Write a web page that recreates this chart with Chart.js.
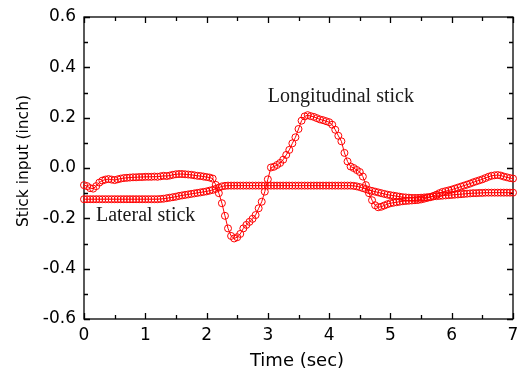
<!DOCTYPE html>
<html>
<head>
<meta charset="utf-8">
<script src="https://cdn.jsdelivr.net/npm/chart.js@4/dist/chart.umd.min.js"></script>
<style>
  body { margin: 0; background: #fff; }
  #wrap { width: 518px; height: 371px; }
</style>
</head>
<body>
<div id="wrap"><canvas id="stickChart" width="518" height="371"></canvas></div>
<script>
// sample times (sec), 0.05 s apart
const time = [
  0.00, 0.05, 0.10, 0.15, 0.20, 0.25, 0.30, 0.35, 0.40, 0.45,
  0.50, 0.55, 0.60, 0.65, 0.70, 0.75, 0.80, 0.85, 0.90, 0.95,
  1.00, 1.05, 1.10, 1.15, 1.20, 1.25, 1.30, 1.35, 1.40, 1.45,
  1.50, 1.55, 1.60, 1.65, 1.70, 1.75, 1.80, 1.85, 1.90, 1.95,
  2.00, 2.05, 2.10, 2.15, 2.20, 2.25, 2.30, 2.35, 2.40, 2.45,
  2.50, 2.55, 2.60, 2.65, 2.70, 2.75, 2.80, 2.85, 2.90, 2.95,
  3.00, 3.05, 3.10, 3.15, 3.20, 3.25, 3.30, 3.35, 3.40, 3.45,
  3.50, 3.55, 3.60, 3.65, 3.70, 3.75, 3.80, 3.85, 3.90, 3.95,
  4.00, 4.05, 4.10, 4.15, 4.20, 4.25, 4.30, 4.35, 4.40, 4.45,
  4.50, 4.55, 4.60, 4.65, 4.70, 4.75, 4.80, 4.85, 4.90, 4.95,
  5.00, 5.05, 5.10, 5.15, 5.20, 5.25, 5.30, 5.35, 5.40, 5.45,
  5.50, 5.55, 5.60, 5.65, 5.70, 5.75, 5.80, 5.85, 5.90, 5.95,
  6.00, 6.05, 6.10, 6.15, 6.20, 6.25, 6.30, 6.35, 6.40, 6.45,
  6.50, 6.55, 6.60, 6.65, 6.70, 6.75, 6.80, 6.85, 6.90, 6.95,
  7.00
];

// stick inputs (inch)
const longitudinal = [
  -0.068, -0.072, -0.080, -0.082, -0.072, -0.058, -0.050, -0.046, -0.044, -0.046,
  -0.048, -0.045, -0.042, -0.040, -0.039, -0.038, -0.037, -0.037, -0.036, -0.036,
  -0.035, -0.035, -0.035, -0.034, -0.035, -0.033, -0.031, -0.032, -0.030, -0.027,
  -0.025, -0.024, -0.024, -0.025, -0.026, -0.027, -0.029, -0.031, -0.032, -0.034,
  -0.036, -0.038, -0.042, -0.067, -0.100, -0.140, -0.190, -0.240, -0.270, -0.280,
  -0.275, -0.262, -0.240, -0.226, -0.214, -0.202, -0.187, -0.160, -0.134, -0.094,
  -0.045, 0.002, 0.005, 0.012, 0.020, 0.033, 0.052, 0.072, 0.098, 0.122,
  0.155, 0.188, 0.205, 0.210, 0.206, 0.203, 0.198, 0.193, 0.190, 0.186,
  0.182, 0.172, 0.152, 0.128, 0.106, 0.060, 0.026, 0.006, 0.000, -0.008,
  -0.016, -0.034, -0.068, -0.100, -0.128, -0.148, -0.156, -0.154, -0.149, -0.144,
  -0.140, -0.138, -0.136, -0.134, -0.132, -0.131, -0.130, -0.129, -0.128, -0.127,
  -0.125, -0.122, -0.119, -0.116, -0.111, -0.106, -0.100, -0.095, -0.092, -0.089,
  -0.086, -0.082, -0.078, -0.074, -0.070, -0.066, -0.062, -0.057, -0.053, -0.049,
  -0.045, -0.040, -0.035, -0.031, -0.029, -0.028, -0.030, -0.034, -0.037, -0.040,
  -0.042
];

const lateral = [
  -0.124, -0.124, -0.124, -0.124, -0.124, -0.124, -0.124, -0.124, -0.124, -0.124,
  -0.124, -0.124, -0.124, -0.124, -0.124, -0.124, -0.124, -0.124, -0.124, -0.124,
  -0.124, -0.124, -0.124, -0.124, -0.124, -0.123, -0.122, -0.120, -0.118, -0.116,
  -0.114, -0.111, -0.109, -0.107, -0.105, -0.103, -0.101, -0.099, -0.097, -0.095,
  -0.093, -0.090, -0.087, -0.083, -0.078, -0.073, -0.071, -0.070, -0.070, -0.070,
  -0.070, -0.070, -0.070, -0.070, -0.070, -0.070, -0.070, -0.070, -0.070, -0.070,
  -0.070, -0.070, -0.070, -0.070, -0.070, -0.070, -0.070, -0.070, -0.070, -0.070,
  -0.070, -0.070, -0.070, -0.070, -0.070, -0.070, -0.070, -0.070, -0.070, -0.070,
  -0.070, -0.070, -0.070, -0.070, -0.070, -0.070, -0.070, -0.070, -0.071, -0.073,
  -0.076, -0.080, -0.084, -0.088, -0.091, -0.094, -0.097, -0.100, -0.103, -0.106,
  -0.108, -0.110, -0.112, -0.114, -0.116, -0.117, -0.118, -0.119, -0.119, -0.119,
  -0.118, -0.117, -0.116, -0.115, -0.113, -0.112, -0.111, -0.110, -0.109, -0.108,
  -0.107, -0.106, -0.105, -0.104, -0.103, -0.102, -0.101, -0.100, -0.100, -0.099,
  -0.099, -0.098, -0.098, -0.098, -0.098, -0.098, -0.098, -0.098, -0.098, -0.098,
  -0.098
];

const xTitle = 'Time (sec)';
const yTitle = 'Stick input (inch)';
const labels = [
  { text: 'Longitudinal stick', x: 3.0, y: 0.263 },
  { text: 'Lateral stick', x: 0.195, y: -0.21 }
];

const RED = '#ff0000';

// box frame with inward major/minor ticks, axis titles and curve labels
const framePlugin = {
  id: 'frame',
  beforeDatasetsDraw(chart) {
    const { ctx, chartArea: a, scales: { x, y } } = chart;
    ctx.save();
    ctx.strokeStyle = '#000';
    ctx.lineWidth = 1.3;
    ctx.strokeRect(a.left, a.top, a.right - a.left, a.bottom - a.top);
    ctx.beginPath();
    for (let v = 0; v <= 7.001; v += 0.5) {
      const px = Math.round(x.getPixelForValue(v)) + 0.5;
      const len = Math.abs(v - Math.round(v)) < 0.01 ? 6 : 4;
      ctx.moveTo(px, a.bottom); ctx.lineTo(px, a.bottom - len);
      ctx.moveTo(px, a.top); ctx.lineTo(px, a.top + len);
    }
    for (let k = -6; k <= 6; k++) {
      const py = Math.round(y.getPixelForValue(k / 10)) + 0.5;
      const len = k % 2 === 0 ? 6 : 4;
      ctx.moveTo(a.left, py); ctx.lineTo(a.left + len, py);
      ctx.moveTo(a.right, py); ctx.lineTo(a.right - len, py);
    }
    ctx.stroke();
    ctx.restore();
  },
  afterDraw(chart) {
    const { ctx, scales: { x, y } } = chart;
    ctx.save();
    ctx.fillStyle = '#000';
    ctx.font = '18px "DejaVu Sans"';
    ctx.textAlign = 'center';
    ctx.textBaseline = 'alphabetic';
    ctx.fillText(xTitle, 297, 366);
    ctx.translate(28, 161);
    ctx.rotate(-Math.PI / 2);
    ctx.font = '15.5px "DejaVu Sans"';
    ctx.fillText(yTitle, 0, 0);
    ctx.restore();

    ctx.save();
    ctx.fillStyle = '#1a1a1a';
    ctx.font = '20px "Liberation Serif"';
    ctx.textAlign = 'left';
    ctx.textBaseline = 'alphabetic';
    labels.forEach(l => {
      ctx.fillText(l.text, x.getPixelForValue(l.x), y.getPixelForValue(l.y));
    });
    ctx.restore();
  }
};

const toPoints = arr => arr.map((v, i) => ({ x: time[i], y: v }));

const seriesStyle = {
  showLine: true,
  borderColor: RED,
  borderWidth: 1,
  pointStyle: 'circle',
  pointRadius: 3.5,
  pointBorderWidth: 1,
  pointBorderColor: RED,
  pointBackgroundColor: 'rgba(0,0,0,0)',
  tension: 0,
  clip: false
};

new Chart(document.getElementById('stickChart').getContext('2d'), {
  type: 'scatter',
  data: {
    datasets: [
      Object.assign({ label: 'Longitudinal stick', data: toPoints(longitudinal) }, seriesStyle),
      Object.assign({ label: 'Lateral stick', data: toPoints(lateral) }, seriesStyle)
    ]
  },
  options: {
    responsive: false,
    animation: false,
    devicePixelRatio: 1,
    layout: { padding: { top: 17, right: 4, bottom: 0, left: 0 } },
    plugins: { legend: { display: false }, tooltip: { enabled: false } },
    scales: {
      x: {
        type: 'linear',
        min: 0, max: 7,
        grid: { display: false, drawTicks: false },
        border: { display: false },
        ticks: {
          stepSize: 1,
          padding: 6,
          color: '#000',
          font: { family: 'DejaVu Sans', size: 17 },
          callback: v => String(v)
        },
        afterFit: s => { s.height = 52; s.paddingLeft = 0; s.paddingRight = 0; }
      },
      y: {
        min: -0.6, max: 0.6,
        grid: { display: false, drawTicks: false },
        border: { display: false },
        ticks: {
          stepSize: 0.2,
          padding: 8,
          color: '#000',
          font: { family: 'DejaVu Sans', size: 17 },
          callback: v => Number(v).toFixed(1)
        },
        afterFit: s => { s.width = 84; s.paddingTop = 0; s.paddingBottom = 0; }
      }
    }
  },
  plugins: [framePlugin]
});
</script>
</body>
</html>
